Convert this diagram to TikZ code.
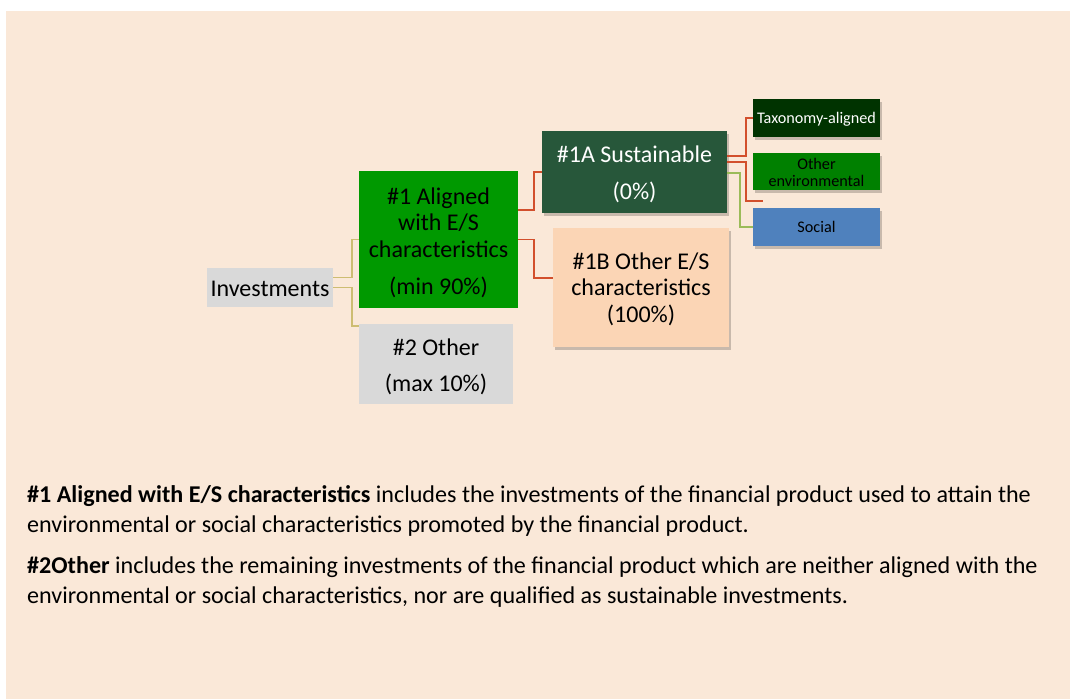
\documentclass[tikz,border=0pt]{standalone}
\usepackage{fontspec}
\setmainfont{Carlito}
\usetikzlibrary{shadows}
\definecolor{bgbeige}{HTML}{FAE8D8}
\definecolor{lgray}{HTML}{D9D9D9}
\definecolor{brgreen}{HTML}{009900}
\definecolor{susgreen}{HTML}{27573A}
\definecolor{peach}{HTML}{FBD5B5}
\definecolor{taxgreen}{HTML}{003300}
\definecolor{envgreen}{HTML}{008000}
\definecolor{socblue}{HTML}{4F81BD}
\definecolor{tanline}{HTML}{CDBD72}
\definecolor{redline}{HTML}{D24F2C}
\definecolor{grnline}{HTML}{9BBB59}
\newcommand\topstrut[1]{\rule{0pt}{#1}}
\tikzset{
  box/.style={rectangle, inner sep=0pt, align=center, font=\fontsize{24}{26.5}\selectfont},
  smallbox/.style={rectangle, inner sep=0pt, align=center, minimum width=127pt, minimum height=38pt, font=\fontsize{16.2}{17}\selectfont},
  shad/.style={drop shadow={shadow xshift=1.5pt, shadow yshift=-2.5pt, opacity=0.2, fill=black}},
  conn/.style={line width=1.6pt},
  bodytext/.style={anchor=base west, inner sep=0pt, font=\fontsize{24.1}{30}\selectfont}
}
\begin{document}
\begin{tikzpicture}[x=1pt, y=-1pt]
\useasboundingbox (0,0) rectangle (1070,699);
\fill[white] (0,0) rectangle (1070,699);
\fill[bgbeige] (6,11) rectangle (1070,699);

% nodes
\node[box, fill=lgray, minimum width=126pt, minimum height=39pt] (inv) at (270,287.5) {\topstrut{17.5pt}Investments};
\node[box, fill=brgreen, minimum width=159pt, minimum height=137pt] (al) at (438.5,239.5)
  {\topstrut{23.5pt}\#1 Aligned\\with E/S\\characteristics\\[11pt](min 90\%)};
\node[box, fill=lgray, minimum width=154pt, minimum height=80pt] (oth) at (436,364)
  {\topstrut{22pt}\#2 Other\\[10pt](max 10\%)};
\node[box, shad, fill=susgreen, text=white, minimum width=185pt, minimum height=82pt] (sus) at (634.5,172)
  {\topstrut{21.5pt}\#1A Sustainable\\[11pt](0\%)};
\node[box, shad, fill=peach, minimum width=176pt, minimum height=119pt] (ob) at (641,287.5)
  {\topstrut{19.5pt}\#1B Other E/S\\characteristics\\(100\%)};
\node[smallbox, shad, fill=taxgreen, text=white] (tax) at (816.5,118) {\topstrut{13pt}Taxonomy-aligned};
\node[smallbox, shad, fill=envgreen, minimum height=37pt] (oenv) at (816.5,171.5) {\topstrut{14pt}Other\\environmental};
\node[smallbox, shad, fill=socblue] (soc) at (816.5,227) {Social};
\coordinate (dang) at (763,201);

% connectors
\draw[conn, tanline] ([yshift=10pt]inv.east) -- ++(19,0) |- (al.west);
\draw[conn, tanline] (inv.east) -- ++(19,0) |- ([yshift=-2pt]oth.north west);
\draw[conn, redline] ([yshift=29.5pt]al.east) -- ++(16,0) |- (sus.west);
\draw[conn, redline] (al.east) -- ++(16,0) |- ([yshift=9.5pt]ob.west);
\draw[conn, redline] ([yshift=16pt]sus.east) -- ++(19,0) |- (tax.west);
\draw[conn, redline] ([yshift=10pt]sus.east) -- ++(19,0) |- (dang);
\draw[conn, grnline] ([yshift=-1pt]sus.east) -- ++(13,0) |- (soc.west);

% text
\node[bodytext] (p1a) at (27,502) {\textbf{\#1 Aligned with E/S characteristics} includes the investments of the financial product used to attain the};
\node[bodytext] (p1b) at (27,532) {environmental or social characteristics promoted by the financial product.};
\node[bodytext] (p2a) at (27,573) {\textbf{\#2Other} includes the remaining investments of the financial product which are neither aligned with the};
\node[bodytext] (p2b) at (27,603) {environmental or social characteristics, nor are qualified as sustainable investments.};
\end{tikzpicture}
\end{document}
